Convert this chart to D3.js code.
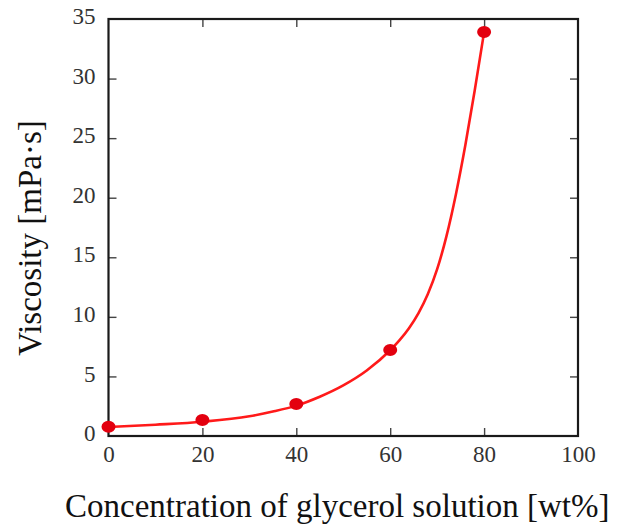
<!DOCTYPE html>
<html>
<head>
<meta charset="utf-8">
<script src="https://cdn.jsdelivr.net/npm/d3@7"></script>
<style>
  body { margin: 0; background: #fff; }
  svg { display: block; }
</style>
</head>
<body>
<svg id="chart"></svg>
<script>
// measured points
const concentration = [0, 20, 40, 60, 80];
const viscosity = [0.78, 1.34, 2.69, 7.22, 33.9];

// fitted curve
const fitConcentration = [0, 10, 20, 30, 35, 40, 45, 50, 55, 60, 62, 64, 66, 68, 70, 72, 74, 76, 78, 80];
const fitViscosity = [0.75, 0.95, 1.2, 1.65, 2.05, 2.55, 3.3, 4.25, 5.5, 7.2, 8.05, 9.05, 10.3, 11.9, 14.0, 16.8, 20.3, 24.4, 29.0, 33.9];

const xTicks = [0, 20, 40, 60, 80, 100];
const yTicks = [0, 5, 10, 15, 20, 25, 30, 35];

const width = 621, height = 524;
const margin = { top: 19, right: 43, bottom: 88, left: 108.5 };
const font = "'Liberation Serif', 'Times New Roman', serif";

const svg = d3.select("#chart")
  .attr("width", width)
  .attr("height", height);

const x = d3.scaleLinear()
  .domain([0, 100])
  .range([margin.left, width - margin.right]);

const y = d3.scaleLinear()
  .domain([0, 35])
  .range([height - margin.bottom, margin.top]);

const tickLen = 8;

function styleAxis(g) {
  g.attr("font-family", null).attr("font-size", null);
  g.select(".domain").remove();
  g.selectAll(".tick line").attr("stroke", "#444").attr("stroke-width", 1.4);
  g.selectAll(".tick text")
    .style("font-family", font)
    .style("font-size", "23px")
    .attr("fill", "#333");
}

// inward ticks on all four sides
svg.append("g")
  .attr("transform", `translate(0,${y(0)})`)
  .call(d3.axisBottom(x).tickValues(xTicks).tickSize(-tickLen).tickPadding(10))
  .call(styleAxis)
  .call(g => g.selectAll(".tick line").filter(d => d === 0 || d === 100).remove());

svg.append("g")
  .attr("transform", `translate(0,${y(35)})`)
  .call(d3.axisTop(x).tickValues(xTicks.slice(1, -1)).tickSize(-tickLen).tickFormat(""))
  .call(styleAxis);

svg.append("g")
  .attr("transform", `translate(${x(0)},0)`)
  .call(d3.axisLeft(y).tickValues(yTicks).tickSize(-tickLen).tickPadding(13))
  .call(styleAxis)
  .call(g => g.selectAll(".tick line").filter(d => d === 0 || d === 35).remove())
  .call(g => g.selectAll(".tick text").attr("dy", "0.2em"));

svg.append("g")
  .attr("transform", `translate(${x(100)},0)`)
  .call(d3.axisRight(y).tickValues(yTicks.slice(1, -1)).tickSize(-tickLen).tickFormat(""))
  .call(styleAxis);

// frame
svg.append("rect")
  .attr("x", x(0))
  .attr("y", y(35))
  .attr("width", x(100) - x(0))
  .attr("height", y(0) - y(35))
  .attr("fill", "none")
  .attr("stroke", "#1a1a1a")
  .attr("stroke-width", 2.2);

// fit curve
const fit = fitConcentration.map((c, i) => [c, fitViscosity[i]]);
const line = d3.line()
  .x(d => x(d[0]))
  .y(d => y(d[1]))
  .curve(d3.curveMonotoneX);

svg.append("path")
  .datum(fit)
  .attr("d", line)
  .attr("fill", "none")
  .attr("stroke", "#ff1a1a")
  .attr("stroke-width", 2.6);

// markers
svg.selectAll("ellipse.pt")
  .data(concentration)
  .enter()
  .append("ellipse")
  .attr("class", "pt")
  .attr("cx", d => x(d))
  .attr("cy", (d, i) => y(viscosity[i]))
  .attr("rx", 7)
  .attr("ry", 6)
  .attr("fill", "#e3000f");

// axis titles
svg.append("text")
  .attr("x", (x(0) + x(100)) / 2 - 6)
  .attr("y", 517)
  .attr("text-anchor", "middle")
  .style("font-family", font)
  .style("font-size", "33px")
  .attr("fill", "#111")
  .text("Concentration of glycerol solution [wt%]");

svg.append("text")
  .attr("transform", `translate(41,238) rotate(-90)`)
  .attr("text-anchor", "middle")
  .style("font-family", font)
  .style("font-size", "33px")
  .attr("fill", "#111")
  .text("Viscosity [mPa·s]");
</script>
</body>
</html>
